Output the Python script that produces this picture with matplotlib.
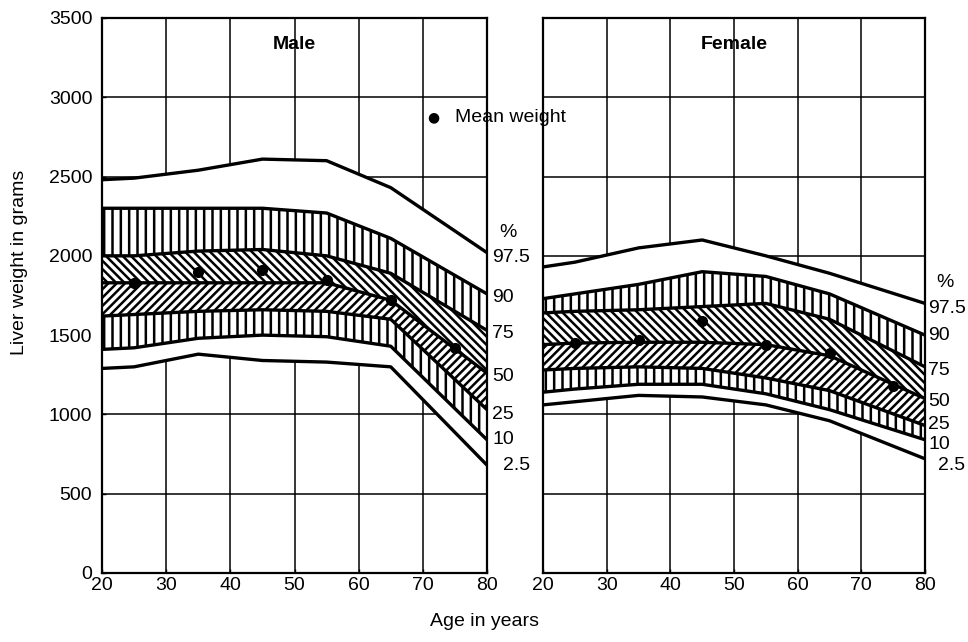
import matplotlib
matplotlib.use('Agg')
import matplotlib.pyplot as plt
import numpy as np

plt.rcParams['font.family'] = ['Liberation Sans', 'DejaVu Sans']
plt.rcParams['hatch.linewidth'] = 1.8

ages = [20, 25, 35, 45, 55, 65, 80]
pct_names = ['97.5', '90', '75', '50', '25', '10', '2.5']

male_p975 = [2480, 2490, 2540, 2610, 2600, 2430, 2020]
male_p90 = [2300, 2300, 2300, 2300, 2270, 2110, 1760]
male_p75 = [2000, 2000, 2030, 2040, 2000, 1890, 1530]
male_p50 = [1830, 1830, 1830, 1830, 1830, 1720, 1260]
male_p25 = [1620, 1630, 1650, 1660, 1650, 1600, 1030]
male_p10 = [1410, 1420, 1480, 1500, 1490, 1430, 840]
male_p025 = [1290, 1300, 1380, 1340, 1330, 1300, 680]

female_p975 = [1930, 1960, 2050, 2100, 2000, 1890, 1700]
female_p90 = [1730, 1760, 1820, 1900, 1870, 1760, 1500]
female_p75 = [1640, 1650, 1660, 1680, 1700, 1600, 1300]
female_p50 = [1440, 1450, 1455, 1455, 1440, 1370, 1100]
female_p25 = [1280, 1290, 1300, 1290, 1230, 1150, 930]
female_p10 = [1140, 1160, 1190, 1190, 1130, 1030, 840]
female_p025 = [1060, 1080, 1120, 1110, 1060, 960, 720]

mean_ages = [25, 35, 45, 55, 65, 75]
male_mean = [1830, 1900, 1910, 1850, 1720, 1420]
female_mean = [1450, 1470, 1590, 1440, 1390, 1180]

# label y positions (grams) next to the right edge
male_label_y = [1990, 1740, 1510, 1240, 1000, 840, 680]
female_label_y = [1670, 1500, 1280, 1080, 935, 810, 680]

fig = plt.figure(figsize=(9.68, 6.42), dpi=100)
ax_m = fig.add_axes([0.1054, 0.1075, 0.3977, 0.8645])
ax_f = fig.add_axes([0.561, 0.1075, 0.3946, 0.8645])


def draw_panel(ax, curves, means, title, label_y, pct_x, num_x, small_x):
    ax.set_xlim(20, 80)
    ax.set_ylim(0, 3500)
    ax.set_xticks(range(20, 81, 10))
    ax.set_yticks(range(0, 3501, 500))
    for x in range(30, 80, 10):
        ax.axvline(x, color='black', lw=1.1, zorder=1)
    for y in range(500, 3500, 500):
        ax.axhline(y, color='black', lw=1.1, zorder=1)
    # white background for the band area
    ax.fill_between(ages, curves[6], curves[0], facecolor='white', lw=0, zorder=2)
    hatches = [None, '||', '\\\\\\\\', '////', '||', None]
    for i, h in enumerate(hatches):
        if h is None:
            continue
        ax.fill_between(ages, curves[i + 1], curves[i], facecolor='white',
                        edgecolor='black', hatch=h, lw=0, zorder=3)
    for c in curves:
        ax.plot(ages, c, color='black', lw=2.4, zorder=4, solid_capstyle='butt')
    ax.plot(mean_ages, means, 'o', color='black', ms=7, zorder=5)
    ax.text(50, 3330, title, ha='center', va='center', fontsize=14,
            fontweight='bold', zorder=6)
    ax.text(pct_x, label_y[0] + 160, '%', ha='center', va='center',
            fontsize=14, clip_on=False)
    for name, ly in zip(pct_names, label_y):
        x = small_x if name == '2.5' else num_x
        ax.text(x, ly, name, ha='left', va='center', fontsize=14, clip_on=False)
    for s in ax.spines.values():
        s.set_linewidth(1.6)
        s.set_zorder(6)
    ax.tick_params(axis='both', labelsize=14, length=3, width=1, direction='in', pad=3)
    ax.tick_params(axis='y', pad=7)


draw_panel(ax_m, [male_p975, male_p90, male_p75, male_p50, male_p25, male_p10, male_p025],
           male_mean, 'Male', male_label_y, 83.3, 80.8, 82.5)
draw_panel(ax_f, [female_p975, female_p90, female_p75, female_p50, female_p25, female_p10, female_p025],
           female_mean, 'Female', female_label_y, 83.1, 80.5, 82.0)
ax_f.tick_params(axis='y', labelleft=False, length=0)

fig.text(433 / 968, 1 - 117 / 642, '\u25cf', ha='center', va='center', fontsize=10,
         family='DejaVu Sans')
fig.text(455 / 968, 1 - 118 / 642, 'Mean weight', ha='left', va='center', fontsize=14)
fig.text(20 / 968, 1 - 262 / 642, 'Liver weight in grams', rotation=90,
         ha='center', va='center', fontsize=14)
fig.text(484 / 968, 1 - 622 / 642, 'Age in years', ha='center', va='center', fontsize=14)

fig.savefig('out.png', dpi=100)
